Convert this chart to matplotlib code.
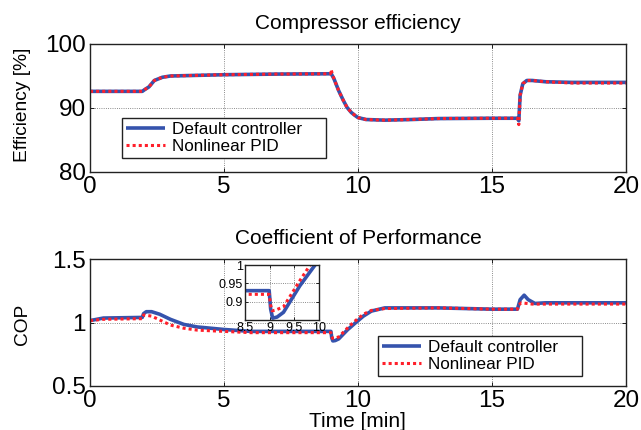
import matplotlib
matplotlib.use("Agg")
import matplotlib.pyplot as plt

plt.rcParams['font.family'] = ['Liberation Sans', 'DejaVu Sans']

# ---- data ----
eff_t_def = [0, 1.95, 2.05, 2.2, 2.4, 2.7, 3.0, 4.0, 5.0, 7.0, 9.0, 9.1, 9.28, 9.45, 9.59, 9.75, 9.9, 10.0, 10.3, 11.0, 12.0, 13.0, 15.0, 15.95, 16.0, 16.05, 16.15, 16.3, 16.5, 17.0, 18.0, 20.0]
eff_v_def = [92.6, 92.6, 92.9, 93.3, 94.3, 94.8, 95.0, 95.1, 95.2, 95.3, 95.35, 94.6, 92.7, 91.2, 90.1, 89.3, 88.8, 88.5, 88.2, 88.1, 88.2, 88.35, 88.4, 88.4, 88.0, 92.0, 93.8, 94.3, 94.3, 94.1, 94.0, 94.0]
eff_t_pid = [0, 1.95, 2.05, 2.2, 2.4, 2.7, 3.0, 4.0, 5.0, 7.0, 8.97, 9.0, 9.04, 9.1, 9.28, 9.45, 9.59, 9.75, 9.9, 10.0, 10.3, 11.0, 12.0, 13.0, 15.0, 15.95, 16.0, 16.05, 16.15, 16.3, 16.5, 17.0, 18.0, 20.0]
eff_v_pid = [92.6, 92.6, 92.9, 93.3, 94.3, 94.8, 95.0, 95.1, 95.2, 95.3, 95.35, 96.0, 95.3, 94.6, 92.7, 91.2, 90.1, 89.3, 88.8, 88.5, 88.2, 88.1, 88.2, 88.35, 88.4, 88.4, 87.4, 92.0, 93.8, 94.3, 94.3, 94.1, 93.9, 93.9]

cop_t_def = [0, 0.5, 1.95, 2.0, 2.1, 2.3, 2.6, 3.0, 3.5, 4.0, 5.0, 6.0, 8.99, 9.02, 9.06, 9.15, 9.28, 9.61, 9.92, 10.2, 10.5, 11.0, 13.0, 15.0, 15.95, 16.05, 16.2, 16.35, 16.6, 17.0, 20.0]
cop_v_def = [1.015, 1.035, 1.04, 1.07, 1.085, 1.085, 1.065, 1.025, 0.985, 0.965, 0.945, 0.93, 0.93, 0.88, 0.855, 0.858, 0.871, 0.943, 1.0, 1.05, 1.09, 1.115, 1.115, 1.105, 1.105, 1.18, 1.215, 1.18, 1.15, 1.155, 1.155]
cop_t_pid = [0, 0.5, 1.95, 2.0, 2.3, 2.6, 3.0, 3.5, 4.0, 5.0, 6.0, 8.99, 9.02, 9.05, 9.12, 9.28, 9.61, 9.82, 10.2, 10.5, 11.0, 13.0, 15.0, 15.95, 16.0, 16.1, 16.5, 17.0, 20.0]
cop_v_pid = [1.015, 1.025, 1.03, 1.06, 1.05, 1.02, 0.98, 0.955, 0.94, 0.93, 0.92, 0.92, 0.89, 0.875, 0.877, 0.886, 0.957, 1.0, 1.065, 1.095, 1.11, 1.115, 1.105, 1.105, 1.14, 1.155, 1.145, 1.145, 1.145]

x_ticks = [0, 5, 10, 15, 20]
eff_ticks = [80, 90, 100]
cop_ticks = [0.5, 1.0, 1.5]
cop_tick_labels = ['0.5', '1', '1.5']
inset_xticks = [8.5, 9, 9.5, 10]
inset_xlabels = ['8.5', '9', '9.5', '10']
inset_yticks = [0.9, 0.95, 1.0]
inset_ylabels = ['0.9', '0.95', '1']

BLUE = '#3553ad'
RED = '#ff1f2a'
W, H = 641, 430

fig = plt.figure(figsize=(W / 100, H / 100), dpi=100)

def px(x0, y0, x1, y1):
    return [x0 / W, 1 - y1 / H, (x1 - x0) / W, (y1 - y0) / H]

def style(ax, fs):
    ax.tick_params(direction='in', top=True, right=True, length=3, width=0.6,
                   labelsize=fs, pad=3)
    ax.grid(True, color='#666666', linestyle=':', linewidth=0.6)
    for s in ax.spines.values():
        s.set_linewidth(1.0)
        s.set_color('#222222')

def draw(ax, t1, v1, t2, v2):
    l1, = ax.plot(t1, v1, color=BLUE, lw=2.6, solid_capstyle='butt', label='Default controller')
    l2, = ax.plot(t2, v2, color=RED, lw=2.2, linestyle=(0, (1.0, 1.0)), label='Nonlinear PID')
    return l1, l2

def legend(ax, x0, y0, w):
    leg = ax.legend(loc='upper left', bbox_to_anchor=(x0 / W, 1 - y0 / H, w / W, 0),
                    bbox_transform=fig.transFigure, mode='expand', fontsize=12.3,
                    frameon=True, fancybox=False, borderaxespad=0, handlelength=2.3,
                    handletextpad=0.4, labelspacing=0.12, borderpad=0.22)
    fr = leg.get_frame()
    fr.set_edgecolor('#222222')
    fr.set_linewidth(1.0)
    fr.set_alpha(1)
    return leg

# top
ax1 = fig.add_axes(px(90, 44, 626, 172))
draw(ax1, eff_t_def, eff_v_def, eff_t_pid, eff_v_pid)
ax1.set_xlim(0, 20)
ax1.set_ylim(80, 100)
ax1.set_xticks(x_ticks)
ax1.set_yticks(eff_ticks)
style(ax1, 17.5)
ax1.set_title('Compressor efficiency', fontsize=15, pad=10.8)
fig.text(23 / W, 1 - 105 / H, 'Efficiency [%]', rotation=90, ha='center', va='center', fontsize=13.8)
legend(ax1, 122, 118, 204)

# bottom
ax2 = fig.add_axes(px(90, 259, 626, 386))
draw(ax2, cop_t_def, cop_v_def, cop_t_pid, cop_v_pid)
ax2.set_xlim(0, 20)
ax2.set_ylim(0.5, 1.5)
ax2.set_xticks(x_ticks)
ax2.set_yticks(cop_ticks)
ax2.set_yticklabels(cop_tick_labels)
style(ax2, 17.5)
ax2.set_title('Coefficient of Performance', fontsize=15, pad=10.8)
fig.text(23 / W, 1 - 324 / H, 'COP', rotation=90, ha='center', va='center', fontsize=13.8)
fig.text(357 / W, 1 - 427 / H, 'Time [min]', ha='center', va='baseline', fontsize=15)
legend(ax2, 378, 336, 204)

# inset
ax3 = fig.add_axes(px(245, 265, 319, 320))
draw(ax3, cop_t_def, cop_v_def, cop_t_pid, cop_v_pid)
ax3.set_xlim(8.5, 10)
ax3.set_ylim(0.85, 1.0)
ax3.set_xticks(inset_xticks)
ax3.set_xticklabels(inset_xlabels)
ax3.set_yticks(inset_yticks)
ax3.set_yticklabels(inset_ylabels)
style(ax3, 9)
ax3.tick_params(pad=1.5, length=2)

fig.savefig('out.png', dpi=100)
